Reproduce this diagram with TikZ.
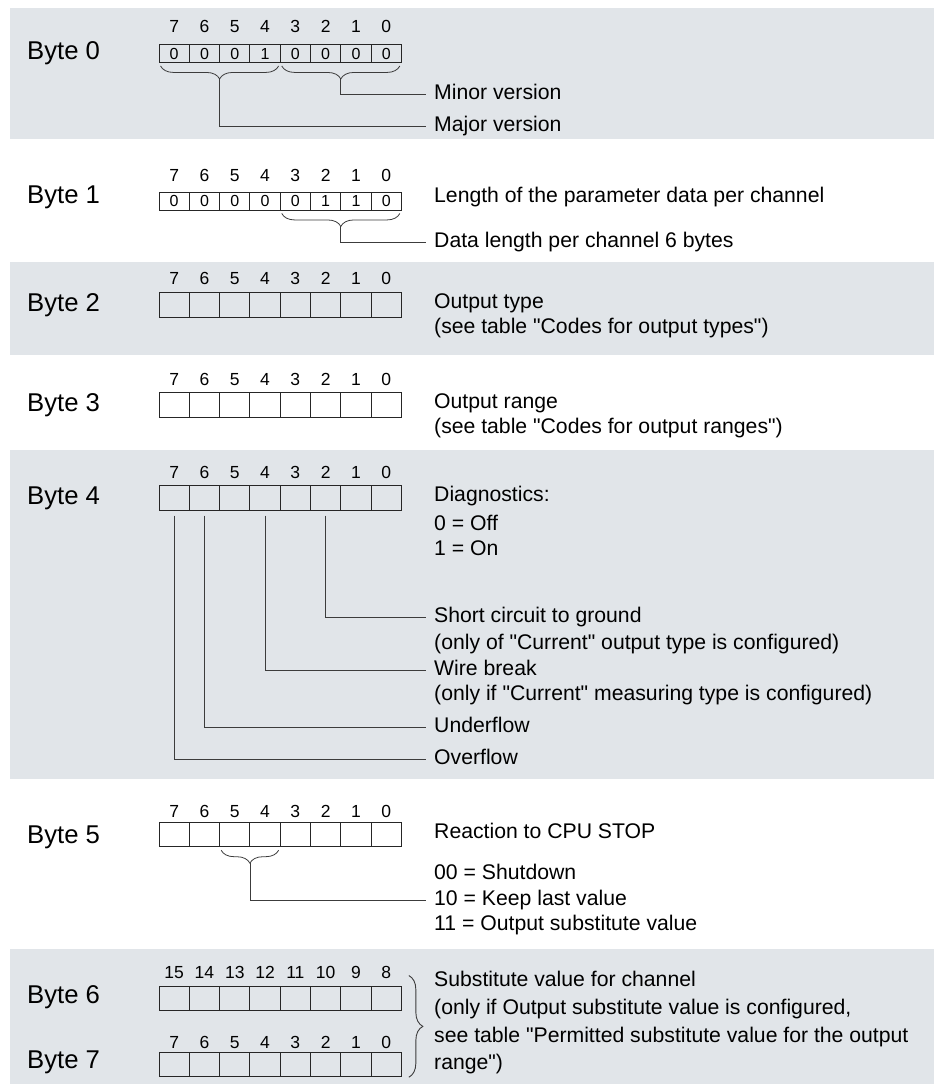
\documentclass[tikz,border=0pt]{standalone}
\usepackage{fontspec}
\setmainfont{Liberation Sans}
\usepackage{tikz}
\usetikzlibrary{decorations.pathreplacing}
\definecolor{bandgray}{RGB}{225,229,233}
\definecolor{leadgray}{RGB}{60,60,60}

\begin{document}
\begin{tikzpicture}[
  x=1pt, y=-1pt,
  band/.style={fill=bandgray, draw=none},
  cell/.style={draw=black!85, line width=0.9pt, minimum width=30.3pt, minimum height=24.5pt, inner sep=0pt, text height=11.5pt, text depth=0pt, font=\fontsize{16}{16}\selectfont},
  valcell/.style={cell, minimum height=18pt},
  bitno/.style={inner sep=0pt, text height=12.5pt, text depth=0pt, font=\fontsize{17.5}{18}\selectfont},
  bytelabel/.style={anchor=west, inner sep=0pt, font=\fontsize{25.7}{26}\selectfont},
  desc/.style={anchor=west, inner sep=0pt, text height=15pt, text depth=4.5pt, font=\fontsize{21.2}{26}\selectfont},
  lead/.style={draw=leadgray, line width=0.8pt},
  ubrace/.style={decorate, decoration={brace, mirror, amplitude=13pt}, line width=0.8pt, draw=leadgray},
  vbrace/.style={decorate, decoration={brace, amplitude=14pt}, line width=0.9pt, draw=leadgray}
]
\path[use as bounding box] (0,0) rectangle (934,1084);
\fill[band] (10,8) rectangle (934,139);
\fill[band] (10,262) rectangle (934,355);
\fill[band] (10,450) rectangle (934,779);
\fill[band] (10,949) rectangle (934,1084);

\node[bytelabel] (byte0) at (27,53.5) {Byte 0};
\node[bytelabel] (byte1) at (27,197.5) {Byte 1};
\node[bytelabel] (byte2) at (27,305.5) {Byte 2};
\node[bytelabel] (byte3) at (27,405.5) {Byte 3};
\node[bytelabel] (byte4) at (27,498.5) {Byte 4};
\node[bytelabel] (byte5) at (27,837.5) {Byte 5};
\node[bytelabel] (byte6) at (27,997.5) {Byte 6};
\node[bytelabel] (byte7) at (27,1062.5) {Byte 7};

\foreach \v [count=\k from 0] in {0,0,0,1,0,0,0,0} {
  \pgfmathtruncatemacro\bit{7-\k}
  \node[valcell] (r0-\bit) at ({174.15+30.3*\k},53.5) {\v};
  \node[bitno] (n0-\bit) at ({174.15+30.3*\k},26.5) {\bit};
}
\foreach \v [count=\k from 0] in {0,0,0,0,0,1,1,0} {
  \pgfmathtruncatemacro\bit{7-\k}
  \node[valcell] (r1-\bit) at ({174.15+30.3*\k},201) {\v};
  \node[bitno] (n1-\bit) at ({174.15+30.3*\k},175) {\bit};
}
\foreach \b/\yc/\yn in {2/305/278.5, 3/405/379, 4/498/472.5, 5/834.5/811.5, 7/1064.5/1042} {
  \foreach \k in {0,...,7} {
    \pgfmathtruncatemacro\bit{7-\k}
    \node[cell] (r\b-\bit) at ({174.15+30.3*\k},\yc) {};
    \node[bitno] (n\b-\bit) at ({174.15+30.3*\k},\yn) {\bit};
  }
}
\foreach \k in {0,...,7} {
  \pgfmathtruncatemacro\bit{15-\k}
  \node[cell] (r6-\bit) at ({174.15+30.3*\k},998.5) {};
  \node[bitno] (n6-\bit) at ({174.15+30.3*\k},972) {\bit};
}

\node[desc] (minor) at (434,94.5) {Minor version};
\node[desc] (major) at (434,126.5) {Major version};
\node[desc] (length) at (434,197.5) {Length of the parameter data per channel};
\node[desc] (datalen) at (434,242.5) {Data length per channel 6 bytes};
\node[desc] (otype) at (434,303.5) {Output type};
\node[desc] (otypetab) at (434,328.5) {(see table \textquotedbl Codes for output types\textquotedbl)};
\node[desc] (orange) at (434,403.5) {Output range};
\node[desc] (orangetab) at (434,428.5) {(see table \textquotedbl Codes for output ranges\textquotedbl)};
\node[desc] (diag) at (434,496.5) {Diagnostics:};
\node[desc] (diagoff) at (434,525.5) {0 = Off};
\node[desc] (diagon) at (434,550.5) {1 = On};
\node[desc] (short) at (434,617.5) {Short circuit to ground};
\node[desc] (shortnote) at (434,644.5) {(only of \textquotedbl Current\textquotedbl{} output type is configured)};
\node[desc] (wire) at (434,670.5) {Wire break};
\node[desc] (wirenote) at (434,695.5) {(only if \textquotedbl Current\textquotedbl{} measuring type is configured)};
\node[desc] (under) at (434,727.5) {Underflow};
\node[desc] (over) at (434,759.5) {Overflow};
\node[desc] (react) at (434,833.5) {Reaction to CPU STOP};
\node[desc] (shutdown) at (434,874.5) {00 = Shutdown};
\node[desc] (keep) at (434,900.5) {10 = Keep last value};
\node[desc] (substout) at (434,925.5) {11 = Output substitute value};
\node[desc] (subst) at (434,981.5) {Substitute value for channel};
\node[desc] (substnote) at (434,1009.5) {(only if Output substitute value is configured,};
\node[desc] (substtab) at (434,1037.5) {see table \textquotedbl Permitted substitute value for the output};
\node[desc] (substrange) at (434,1064.5) {range\textquotedbl)};

\draw[ubrace] ([xshift=2pt,yshift=-3pt]r0-7.south west) -- ([xshift=-2pt,yshift=-3pt]r0-4.south east) coordinate[midway,yshift=-13pt] (majortip);
\draw[ubrace] ([xshift=2pt,yshift=-3pt]r0-3.south west) -- ([xshift=-2pt,yshift=-3pt]r0-0.south east) coordinate[midway,yshift=-13pt] (minortip);
\draw[ubrace] ([xshift=2pt,yshift=-3pt]r1-3.south west) -- ([xshift=-2pt,yshift=-3pt]r1-0.south east) coordinate[midway,yshift=-13pt] (lentip);
\draw[ubrace] ([xshift=2pt,yshift=-3pt]r5-5.south west) -- ([xshift=-2pt,yshift=-3pt]r5-4.south east) coordinate[midway,yshift=-13pt] (reacttip);
\draw[vbrace] ([xshift=7pt,yshift=-10pt]n6-8.north -| r6-8.east) -- ([xshift=7pt]r7-0.south east);

\draw[lead] (minortip) |- ([xshift=-8pt]minor.west);
\draw[lead] (majortip) |- ([xshift=-8pt]major.west);
\draw[lead] (lentip) |- ([xshift=-8pt]datalen.west);
\draw[lead] ([yshift=-5pt]r4-2.south) |- ([xshift=-8pt]short.west);
\draw[lead] ([yshift=-5pt]r4-4.south) |- ([xshift=-8pt]wire.west);
\draw[lead] ([yshift=-5pt]r4-6.south) |- ([xshift=-8pt]under.west);
\draw[lead] ([yshift=-5pt]r4-7.south) |- ([xshift=-8pt]over.west);
\draw[lead] (reacttip) |- ([xshift=-8pt]keep.west);
\end{tikzpicture}
\end{document}
